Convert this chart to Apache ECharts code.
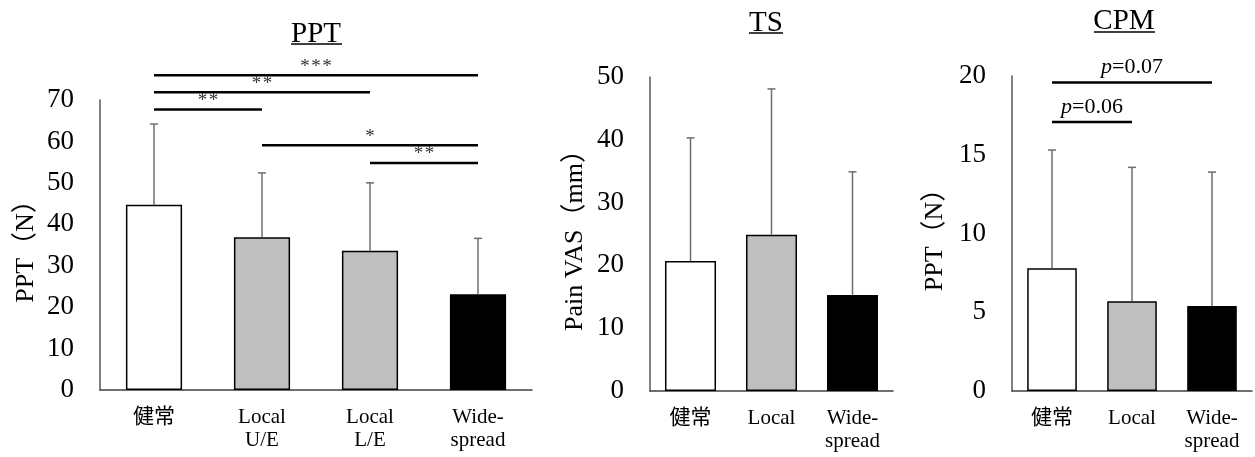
<!DOCTYPE html>
<html>
<head>
<meta charset="utf-8">
<script src="https://cdn.jsdelivr.net/npm/echarts@6/dist/echarts.min.js"></script>
<style>
  html, body { margin: 0; padding: 0; background: #fff; }
  #chart { width: 1255px; height: 457px; }
</style>
</head>
<body>
<div id="chart"></div>
<script>
  // data
  const pptCats = ['健常', 'Local\nU/E', 'Local\nL/E', 'Wide-\nspread']
  const pptMean = [44.7, 36.9, 33.6, 23.1]
  const pptUpper = [64.2, 52.4, 50.0, 36.6]
  const pptSig = [[0, 3, 76.0, '***'], [0, 2, 71.9, '**'], [0, 1, 67.7, '**'], [1, 3, 59.1, '*'], [2, 3, 54.8, '**']]

  const tsCats = ['健常', 'Local', 'Wide-\nspread']
  const tsMean = [20.7, 24.9, 15.3]
  const tsUpper = [40.3, 48.1, 34.9]

  const cpmCats = ['健常', 'Local', 'Wide-\nspread']
  const cpmMean = [7.8, 5.7, 5.4]
  const cpmUpper = [15.3, 14.2, 13.9]
  const cpmSig = [[0, 2, 19.58, '0.07'], [0, 1, 17.08, '0.06']]

  const font = "'Liberation Serif', 'Times New Roman', 'Noto Sans CJK JP', serif"
  const pptFill = ['#ffffff', '#bfbfbf', '#bfbfbf', '#000000']
  const threeFill = ['#ffffff', '#bfbfbf', '#000000']

  function errRender (params, api) {
    const x = api.value(0)
    const lo = api.coord([x, api.value(1)])
    const hi = api.coord([x, api.value(2)])
    const st = { stroke: '#6e6e6e', lineWidth: 1.5 }
    return {
      type: 'group',
      children: [
        { type: 'line', shape: { x1: lo[0], y1: lo[1], x2: hi[0], y2: hi[1] }, style: st },
        { type: 'line', shape: { x1: hi[0] - 4, y1: hi[1], x2: hi[0] + 4, y2: hi[1] }, style: st }
      ]
    }
  }

  function sigRender (rows, isP) {
    return function (params, api) {
      const a = api.coord([api.value(0), api.value(2)])
      const b = api.coord([api.value(1), api.value(2)])
      const label = rows[params.dataIndex][3]
      return {
        type: 'group',
        children: [
          { type: 'line', shape: { x1: a[0], y1: a[1], x2: b[0], y2: b[1] }, style: { stroke: '#000', lineWidth: 2.5 } },
          {
            type: 'text',
            style: {
              x: (a[0] + b[0]) / 2,
              y: isP ? a[1] - 4 : a[1] + 1,
              // hair spaces between the stars, as in the figure
              text: isP ? '{i|p}=' + label : label.split('').join('\u200a'),
              rich: { i: { fontStyle: 'italic', fontFamily: font, fontSize: 22 } },
              fontFamily: font,
              fontSize: isP ? 22 : 19,
              fill: isP ? '#000' : '#333',
              align: 'center',
              verticalAlign: 'bottom'
            }
          }
        ]
      }
    }
  }

  function yAxis (idx, name, max, interval, gap) {
    return {
      type: 'value',
      gridIndex: idx,
      min: 0,
      max: max,
      interval: interval,
      name: name,
      nameLocation: 'middle',
      nameGap: gap,
      nameTextStyle: { fontFamily: font, fontSize: 26, color: '#000' },
      axisLine: { show: true, lineStyle: { color: '#595959', width: 1.5 } },
      axisTick: { show: false },
      splitLine: { show: false },
      axisLabel: { fontFamily: font, fontSize: 27, color: '#000', margin: 26 }
    }
  }

  function xAxis (idx, cats) {
    return {
      type: 'category',
      gridIndex: idx,
      data: cats,
      axisLine: { lineStyle: { color: '#404040', width: 1.5 } },
      axisTick: { show: false },
      axisLabel: { fontFamily: font, fontSize: 21, lineHeight: 23, color: '#000', margin: 16, interval: 0 }
    }
  }

  function bars (idx, values, fills, width) {
    return {
      type: 'bar',
      xAxisIndex: idx,
      yAxisIndex: idx,
      barWidth: width,
      data: values,
      itemStyle: {
        color: p => fills[p.dataIndex],
        borderColor: '#000',
        borderWidth: 1.5
      },
      silent: true
    }
  }

  function errors (idx, means, uppers) {
    return {
      type: 'custom',
      xAxisIndex: idx,
      yAxisIndex: idx,
      renderItem: errRender,
      data: means.map((m, i) => [i, m, uppers[i]]),
      z: 3,
      silent: true
    }
  }

  function sigs (idx, rows, isP) {
    return {
      type: 'custom',
      xAxisIndex: idx,
      yAxisIndex: idx,
      renderItem: sigRender(rows, isP),
      encode: { x: [0, 1], y: 2 },
      data: rows.map(r => [r[0], r[1], r[2]]),
      clip: false,
      z: 4,
      silent: true
    }
  }

  function title (text, cx, cy, x1, x2, uy) {
    return [
      {
        type: 'text',
        style: { x: cx, y: cy, text: text, fontFamily: font, fontSize: 29, fill: '#000', align: 'center', verticalAlign: 'middle' }
      },
      {
        type: 'line',
        shape: { x1: x1, y1: uy, x2: x2, y2: uy },
        style: { stroke: '#000', lineWidth: 1.5 }
      }
    ]
  }

  const chart = echarts.init(document.getElementById('chart'))
  chart.setOption({
    animation: false,
    grid: [
      { left: 100, right: 723, top: 100, bottom: 67 },
      { left: 650, right: 362, top: 77, bottom: 66 },
      { left: 1012, right: 3, top: 76, bottom: 66 }
    ],
    xAxis: [xAxis(0, pptCats), xAxis(1, tsCats), xAxis(2, cpmCats)],
    yAxis: [
      yAxis(0, 'PPT（N）', 70, 10, 61),
      yAxis(1, 'Pain VAS（mm）', 50, 10, 62),
      yAxis(2, 'PPT（N）', 20, 5, 64)
    ],
    series: [
      bars(0, pptMean, pptFill, '52%'),
      errors(0, pptMean, pptUpper),
      sigs(0, pptSig, false),
      bars(1, tsMean, threeFill, '63%'),
      errors(1, tsMean, tsUpper),
      bars(2, cpmMean, threeFill, '62%'),
      errors(2, cpmMean, cpmUpper),
      sigs(2, cpmSig, true)
    ],
    graphic: [
      ...title('PPT', 316, 34, 291, 342, 44),
      ...title('TS', 766, 23, 749, 783, 33),
      ...title('CPM', 1124, 21, 1094, 1155, 32)
    ]
  })
</script>
</body>
</html>
